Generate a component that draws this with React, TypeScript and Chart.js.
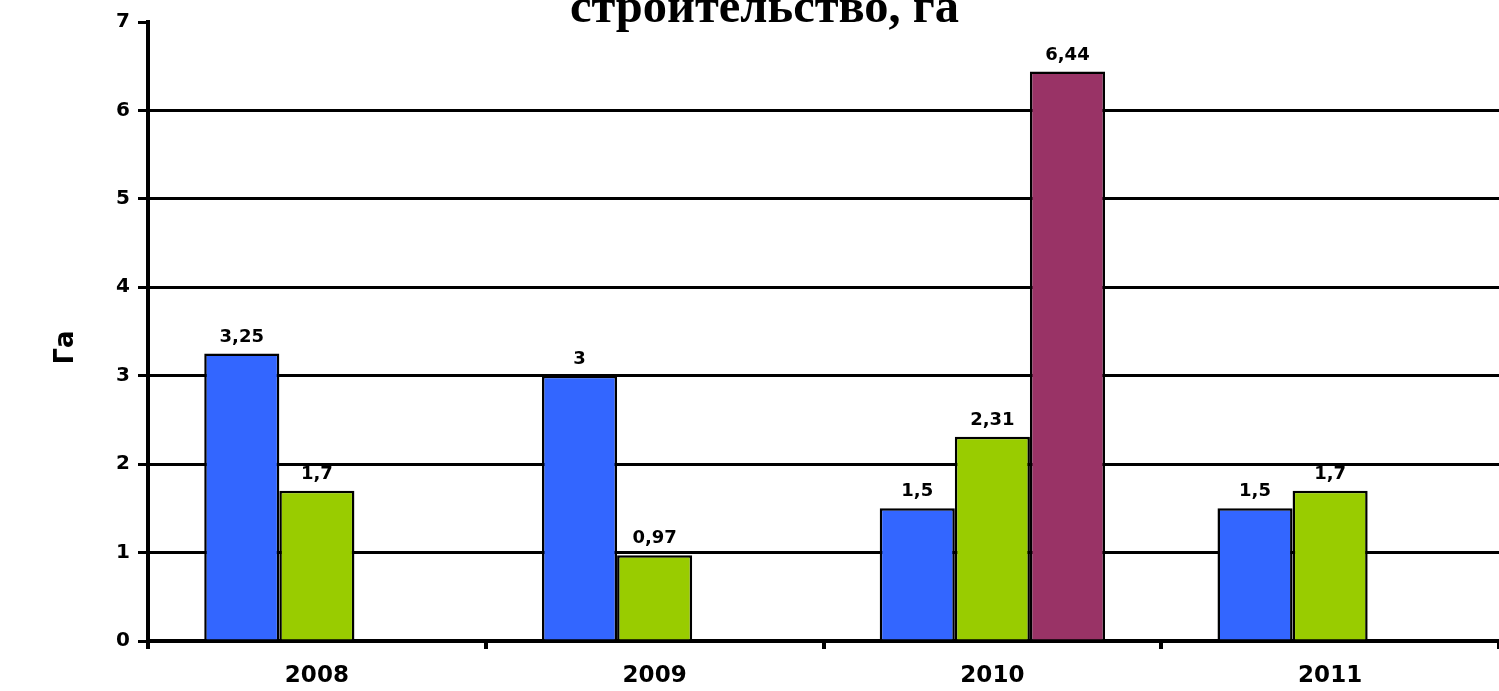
import React, { useEffect, useRef } from 'react';
import { Chart, registerables } from 'chart.js';

Chart.register(...registerables);

const TITLE_TEXT = 'строительство, га';
const Y_TITLE = 'Га';
const categories = ['2008', '2009', '2010', '2011'];
const seriesBlue: (number | null)[] = [3.25, 3, 1.5, 1.5];
const seriesGreen: (number | null)[] = [1.7, 0.97, 2.31, 1.7];
const seriesPurple: (number | null)[] = [null, null, 6.44, null];
const Y_MIN = 0;
const Y_MAX = 7;
const Y_STEP = 1;

const COLORS = ['#3366FF', '#99CC00', '#993366'];
const SANS = '"DejaVu Sans", "Liberation Sans", Arial, sans-serif';

const fmt = (v: number) => String(v).replace('.', ',');

const labelPlugin = {
  id: 'barLabels',
  afterDatasetsDraw(chart: any) {
    const ctx = chart.ctx;
    ctx.save();
    ctx.font = 'bold 18px ' + SANS;
    ctx.fillStyle = '#000';
    ctx.textAlign = 'center';
    ctx.textBaseline = 'alphabetic';
    chart.data.datasets.forEach((ds: any, i: number) => {
      const meta = chart.getDatasetMeta(i);
      meta.data.forEach((el: any, j: number) => {
        const v = ds.data[j];
        if (v === null || v === undefined) return;
        ctx.fillText(fmt(v), el.x, el.y - 12);
      });
    });
    ctx.restore();
  },
};

const titlePlugin = {
  id: 'cutTitle',
  afterDraw(chart: any) {
    const ctx = chart.ctx;
    const area = chart.chartArea;
    ctx.save();
    ctx.font = 'bold 48px "Liberation Serif", "Times New Roman", serif';
    ctx.fillStyle = '#000';
    ctx.textAlign = 'center';
    ctx.textBaseline = 'alphabetic';
    ctx.translate(chart.width / 2 + 15, area.top);
    ctx.scale(1.01, 1);
    ctx.fillText(TITLE_TEXT, 0, 0);
    ctx.restore();

    // rotated y-axis title
    ctx.save();
    ctx.font = 'bold 26px ' + SANS;
    ctx.fillStyle = '#000';
    ctx.textAlign = 'center';
    ctx.textBaseline = 'middle';
    ctx.translate(66, (area.top + area.bottom) / 2 + 16);
    ctx.rotate(-Math.PI / 2);
    ctx.fillText(Y_TITLE, 0, 0);
    ctx.restore();
  },
};

export default function App() {
  const ref = useRef<HTMLCanvasElement>(null);
  useEffect(() => {
    if (!ref.current) return;
    const chart = new Chart(ref.current, {
      type: 'bar',
      data: {
        labels: categories,
        datasets: [
          { data: seriesBlue, backgroundColor: COLORS[0], borderColor: '#000', borderWidth: 2.5 },
          { data: seriesGreen, backgroundColor: COLORS[1], borderColor: '#000', borderWidth: 2.5 },
          { data: seriesPurple, backgroundColor: COLORS[2], borderColor: '#000', borderWidth: 2.5 },
        ],
      },
      options: {
        animation: false,
        responsive: true,
        maintainAspectRatio: false,
        layout: { padding: { top: 22, left: 0, right: 0, bottom: 0 } },
        plugins: { legend: { display: false }, tooltip: { enabled: false }, title: { display: false } },
        datasets: { bar: { barPercentage: 1, categoryPercentage: 0.667 } } as any,
        scales: {
          x: {
            offset: true,
            grid: {
              offset: true,
              drawOnChartArea: false,
              drawTicks: true,
              tickLength: 8,
              tickColor: '#000',
              lineWidth: 4,
            },
            border: { display: true, color: '#000', width: 4 },
            ticks: {
              color: '#000',
              padding: 13,
              font: { family: SANS, size: 23, weight: 'bold' },
            },
            afterFit: (s: any) => { s.height = 50; },
          },
          y: {
            min: Y_MIN,
            max: Y_MAX,
            ticks: {
              stepSize: Y_STEP,
              color: '#000',
              padding: 8,
              font: { family: SANS, size: 20, weight: 'bold' },
            },
            grid: {
              color: (c: any) => (c.tick && c.tick.value === Y_MAX ? 'rgba(0,0,0,0)' : '#000'),
              tickColor: '#000',
              lineWidth: 3,
              tickLength: 10,
            },
            border: { display: true, color: '#000', width: 4 },
            afterFit: (s: any) => { s.width = 148; },
          },
        },
      } as any,
      plugins: [labelPlugin, titlePlugin],
    });
    return () => chart.destroy();
  }, []);
  return (
    <div style={{ position: 'fixed', left: 0, top: 0, width: '100vw', height: '100vh', background: '#fff' }}>
      <canvas ref={ref} />
    </div>
  );
}
